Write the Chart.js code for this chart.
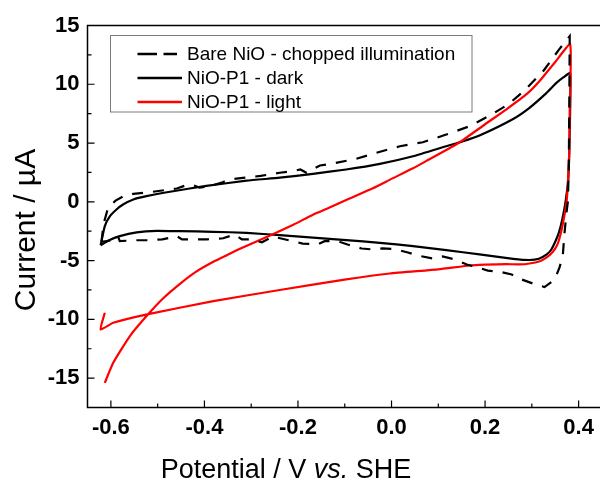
<!DOCTYPE html>
<html>
<head>
<meta charset="utf-8">
<script src="https://cdn.jsdelivr.net/npm/chart.js@4.4.1/dist/chart.umd.min.js"></script>
<style>
html, body { margin: 0; padding: 0; background: #fff; overflow: hidden; }
#wrap { width: 606px; height: 484px; }
</style>
</head>
<body>
<div id="wrap"><canvas id="cvChart"></canvas></div>
<script>
// Bare NiO, chopped illumination (dashed)
const bareV = [-0.62, -0.616, -0.606, -0.59, -0.574, -0.552, -0.52, -0.485, -0.459, -0.44,
    -0.427, -0.41, -0.384, -0.361, -0.346, -0.318, -0.28, -0.239, -0.21, -0.195,
    -0.182, -0.153, -0.125, -0.075, -0.032, 0.018, 0.067, 0.117, 0.167, 0.21,
    0.25, 0.285, 0.325, 0.358, 0.381, 0.380, 0.379, 0.377, 0.374, 0.37,
    0.366, 0.359, 0.349, 0.327, 0.302, 0.278, 0.257, 0.231, 0.206, 0.184,
    0.161, 0.135, 0.109, 0.088, 0.056, 0.035, 0.007, -0.019, -0.042, -0.064,
    -0.094, -0.115, -0.143, -0.158, -0.19, -0.211, -0.254, -0.277, -0.303, -0.32,
    -0.335, -0.36, -0.395, -0.448, -0.459, -0.49, -0.523, -0.549, -0.581, -0.585,
    -0.6, -0.62];
const bareI = [-3.4, -1.93, -0.51, 0.1, 0.45, 0.68, 0.8, 0.99, 1.13, 1.4,
    1.45, 1.2, 1.39, 1.67, 1.9, 2.04, 2.2, 2.47, 2.62, 2.75,
    2.47, 3.09, 3.26, 3.66, 4.17, 4.73, 5.07, 5.72, 6.43, 7.34,
    8.3, 9.5, 11.15, 12.95, 14.1, 8.0, 3.0, 0.0, -0.94, -2.6,
    -4.65, -5.6, -6.61, -7.25, -6.95, -6.6, -6.18, -5.95, -5.85, -5.59,
    -5.33, -4.9, -4.65, -4.82, -4.57, -4.31, -4.03, -3.97, -4.05, -3.97,
    -3.63, -3.35, -3.35, -3.63, -3.55, -3.35, -2.95, -3.44, -3.2, -3.2,
    -2.78, -3.1, -3.2, -3.2, -2.92, -3.2, -3.27, -3.27, -3.35, -2.92,
    -3.3, -3.4];

// NiO-P1 dark (black)
const darkV = [-0.622, -0.613, -0.602, -0.588, -0.574, -0.552, -0.524, -0.467, -0.396, -0.31,
    -0.239, -0.168, -0.097, -0.025, 0.046, 0.117, 0.153, 0.188, 0.26, 0.295,
    0.331, 0.352, 0.368, 0.382, 0.381, 0.378, 0.372, 0.365, 0.358, 0.350,
    0.341, 0.331, 0.315, 0.295, 0.26, 0.188, 0.117, 0.046, -0.025, -0.097,
    -0.168, -0.239, -0.31, -0.381, -0.453, -0.502, -0.545, -0.581, -0.605, -0.622];
const darkI = [-3.7, -2.07, -1.22, -0.65, -0.23, 0.2, 0.48, 0.9, 1.35, 1.8,
    2.05, 2.38, 2.75, 3.23, 3.88, 4.73, 5.15, 5.64, 7.05, 8.0,
    9.25, 10.1, 10.6, 10.95, 6.0, 2.0, 0.0, -1.5, -2.6, -3.4,
    -4.1, -4.5, -4.85, -4.95, -4.85, -4.48, -4.11, -3.77, -3.49, -3.26,
    -3.04, -2.84, -2.64, -2.55, -2.5, -2.47, -2.6, -2.92, -3.3, -3.7];

// NiO-P1 light (red)
const lightV = [-0.613, -0.595, -0.559, -0.52, -0.488, -0.453, -0.42, -0.381, -0.35, -0.324,
    -0.256, -0.21, -0.168, -0.13, -0.097, -0.04, 0.0, 0.046, 0.08, 0.117,
    0.149, 0.2, 0.245, 0.29, 0.317, 0.35, 0.382, 0.381, 0.380, 0.377,
    0.374, 0.369, 0.363, 0.355, 0.345, 0.331, 0.317, 0.295, 0.274, 0.245,
    0.2, 0.167, 0.1, -0.004, -0.097, -0.239, -0.381, -0.52, -0.595, -0.622,
    -0.613];
const lightI = [-15.4, -13.7, -11.4, -9.55, -8.2, -7.0, -6.0, -5.1, -4.5, -4.0,
    -2.8, -1.95, -1.1, -0.45, 0.15, 1.15, 1.95, 2.85, 3.6, 4.4,
    5.15, 6.6, 7.85, 9.2, 10.3, 11.9, 13.4, 8.0, 4.2, 1.5,
    -0.1, -1.3, -2.5, -3.6, -4.25, -4.75, -5.05, -5.25, -5.33, -5.3,
    -5.35, -5.42, -5.75, -6.1, -6.6, -7.5, -8.45, -9.55, -10.29, -10.86,
    -9.44];

const seriesNames = ['Bare NiO - chopped illumination', 'NiO-P1 - dark', 'NiO-P1 - light'];
const xTicks = [-0.6, -0.4, -0.2, 0.0, 0.2, 0.4];
const xMinor = [-0.5, -0.3, -0.1, 0.1, 0.3];
const yTicks = [-15, -10, -5, 0, 5, 10, 15];
const yMinor = [12.5, 7.5, 2.5, -2.5, -7.5, -12.5];

const toPts = (xs, ys) => xs.map((v, i) => ({ x: v, y: ys[i] }));

// frame, inward ticks, legend and axis titles
const extras = {
    id: 'extras',
    afterDraw(chart) {
        const { ctx, chartArea: a, scales: { x, y } } = chart;
        ctx.save();
        ctx.strokeStyle = '#000';
        ctx.lineWidth = 1.5;
        ctx.beginPath();
        ctx.moveTo(a.right, a.top);
        ctx.lineTo(a.left, a.top);
        ctx.lineTo(a.left, a.bottom);
        ctx.lineTo(a.right, a.bottom);
        ctx.stroke();

        ctx.lineWidth = 1.2;
        ctx.beginPath();
        xTicks.forEach(v => { const p = x.getPixelForValue(v); ctx.moveTo(p, a.bottom); ctx.lineTo(p, a.bottom - 7); });
        xMinor.forEach(v => { const p = x.getPixelForValue(v); ctx.moveTo(p, a.bottom); ctx.lineTo(p, a.bottom - 4); });
        yTicks.forEach(v => { const p = y.getPixelForValue(v); ctx.moveTo(a.left, p); ctx.lineTo(a.left + 7, p); });
        yMinor.forEach(v => { const p = y.getPixelForValue(v); ctx.moveTo(a.left, p); ctx.lineTo(a.left + 4, p); });
        ctx.stroke();

        // legend
        ctx.fillStyle = '#fff';
        ctx.fillRect(110.5, 35.5, 361.5, 76.5);
        ctx.strokeStyle = '#7a7a7a';
        ctx.lineWidth = 1;
        ctx.strokeRect(110.5, 35.5, 361.5, 76.5);
        const rows = [54, 78, 102];
        const styles = [['#000', [19.5, 6.5], 177], ['#000', [], 182], ['#ff0000', [], 182]];
        ctx.lineWidth = 2.5;
        rows.forEach((ry, i) => {
            ctx.strokeStyle = styles[i][0];
            ctx.setLineDash(styles[i][1]);
            ctx.beginPath();
            ctx.moveTo(137.5, ry);
            ctx.lineTo(styles[i][2], ry);
            ctx.stroke();
        });
        ctx.setLineDash([]);
        ctx.fillStyle = '#000';
        ctx.font = '19px "Liberation Sans", Arial, sans-serif';
        ctx.textBaseline = 'middle';
        ctx.textAlign = 'left';
        rows.forEach((ry, i) => ctx.fillText(seriesNames[i], 187, ry + 1));

        // x title with italic "vs."
        const parts = [['Potential / V ', ''], ['vs.', 'italic '], [' SHE', '']];
        ctx.textBaseline = 'alphabetic';
        let total = 0;
        parts.forEach(p => { ctx.font = p[1] + '27px "Liberation Sans", Arial, sans-serif'; total += ctx.measureText(p[0]).width; });
        let px = 286 - total / 2;
        parts.forEach(p => {
            ctx.font = p[1] + '27px "Liberation Sans", Arial, sans-serif';
            ctx.fillText(p[0], px, 478);
            px += ctx.measureText(p[0]).width;
        });

        // y title
        ctx.translate(35, 230);
        ctx.rotate(-Math.PI / 2);
        ctx.textAlign = 'center';
        ctx.font = '30px "Liberation Sans", Arial, sans-serif';
        ctx.fillText('Current / \u00b5A', 0, 0);
        ctx.restore();
    }
};

const tickFont = { family: '"Liberation Sans", Arial, sans-serif', size: 22, weight: 'bold' };

new Chart(document.getElementById('cvChart'), {
    type: 'scatter',
    data: {
        datasets: [
            { label: seriesNames[0], data: toPts(bareV, bareI), showLine: true, borderColor: '#000',
              borderWidth: 2.2, borderDash: [11, 10], pointRadius: 0, tension: 0 },
            { label: seriesNames[2], data: toPts(lightV, lightI), showLine: true, borderColor: '#ff0000',
              borderWidth: 2.2, pointRadius: 0, tension: 0.15 },
            { label: seriesNames[1], data: toPts(darkV, darkI), showLine: true, borderColor: '#000',
              borderWidth: 2.2, pointRadius: 0, tension: 0.15 }
        ]
    },
    options: {
        responsive: true,
        maintainAspectRatio: false,
        animation: false,
        devicePixelRatio: 1,
        events: [],
        layout: { padding: { top: 25.5, right: 4, left: 0, bottom: 0 } },
        plugins: { legend: { display: false }, tooltip: { enabled: false } },
        scales: {
            x: {
                type: 'linear', min: -0.65, max: 0.45,
                afterBuildTicks: s => { s.ticks = xTicks.map(v => ({ value: v })); },
                afterFit: s => { s.height = 76.5; },
                grid: { display: false, drawTicks: false },
                border: { display: false },
                ticks: { font: tickFont, color: '#000', padding: 7, maxRotation: 0,
                         callback: v => v.toFixed(1) }
            },
            y: {
                type: 'linear', min: -17.5, max: 15,
                afterBuildTicks: s => { s.ticks = yTicks.map(v => ({ value: v })); },
                afterFit: s => { s.width = 87.5; },
                grid: { display: false, drawTicks: false },
                border: { display: false },
                ticks: { font: tickFont, color: '#000', padding: 8,
                         callback: v => String(v) }
            }
        }
    },
    plugins: [extras]
});
</script>
</body>
</html>
